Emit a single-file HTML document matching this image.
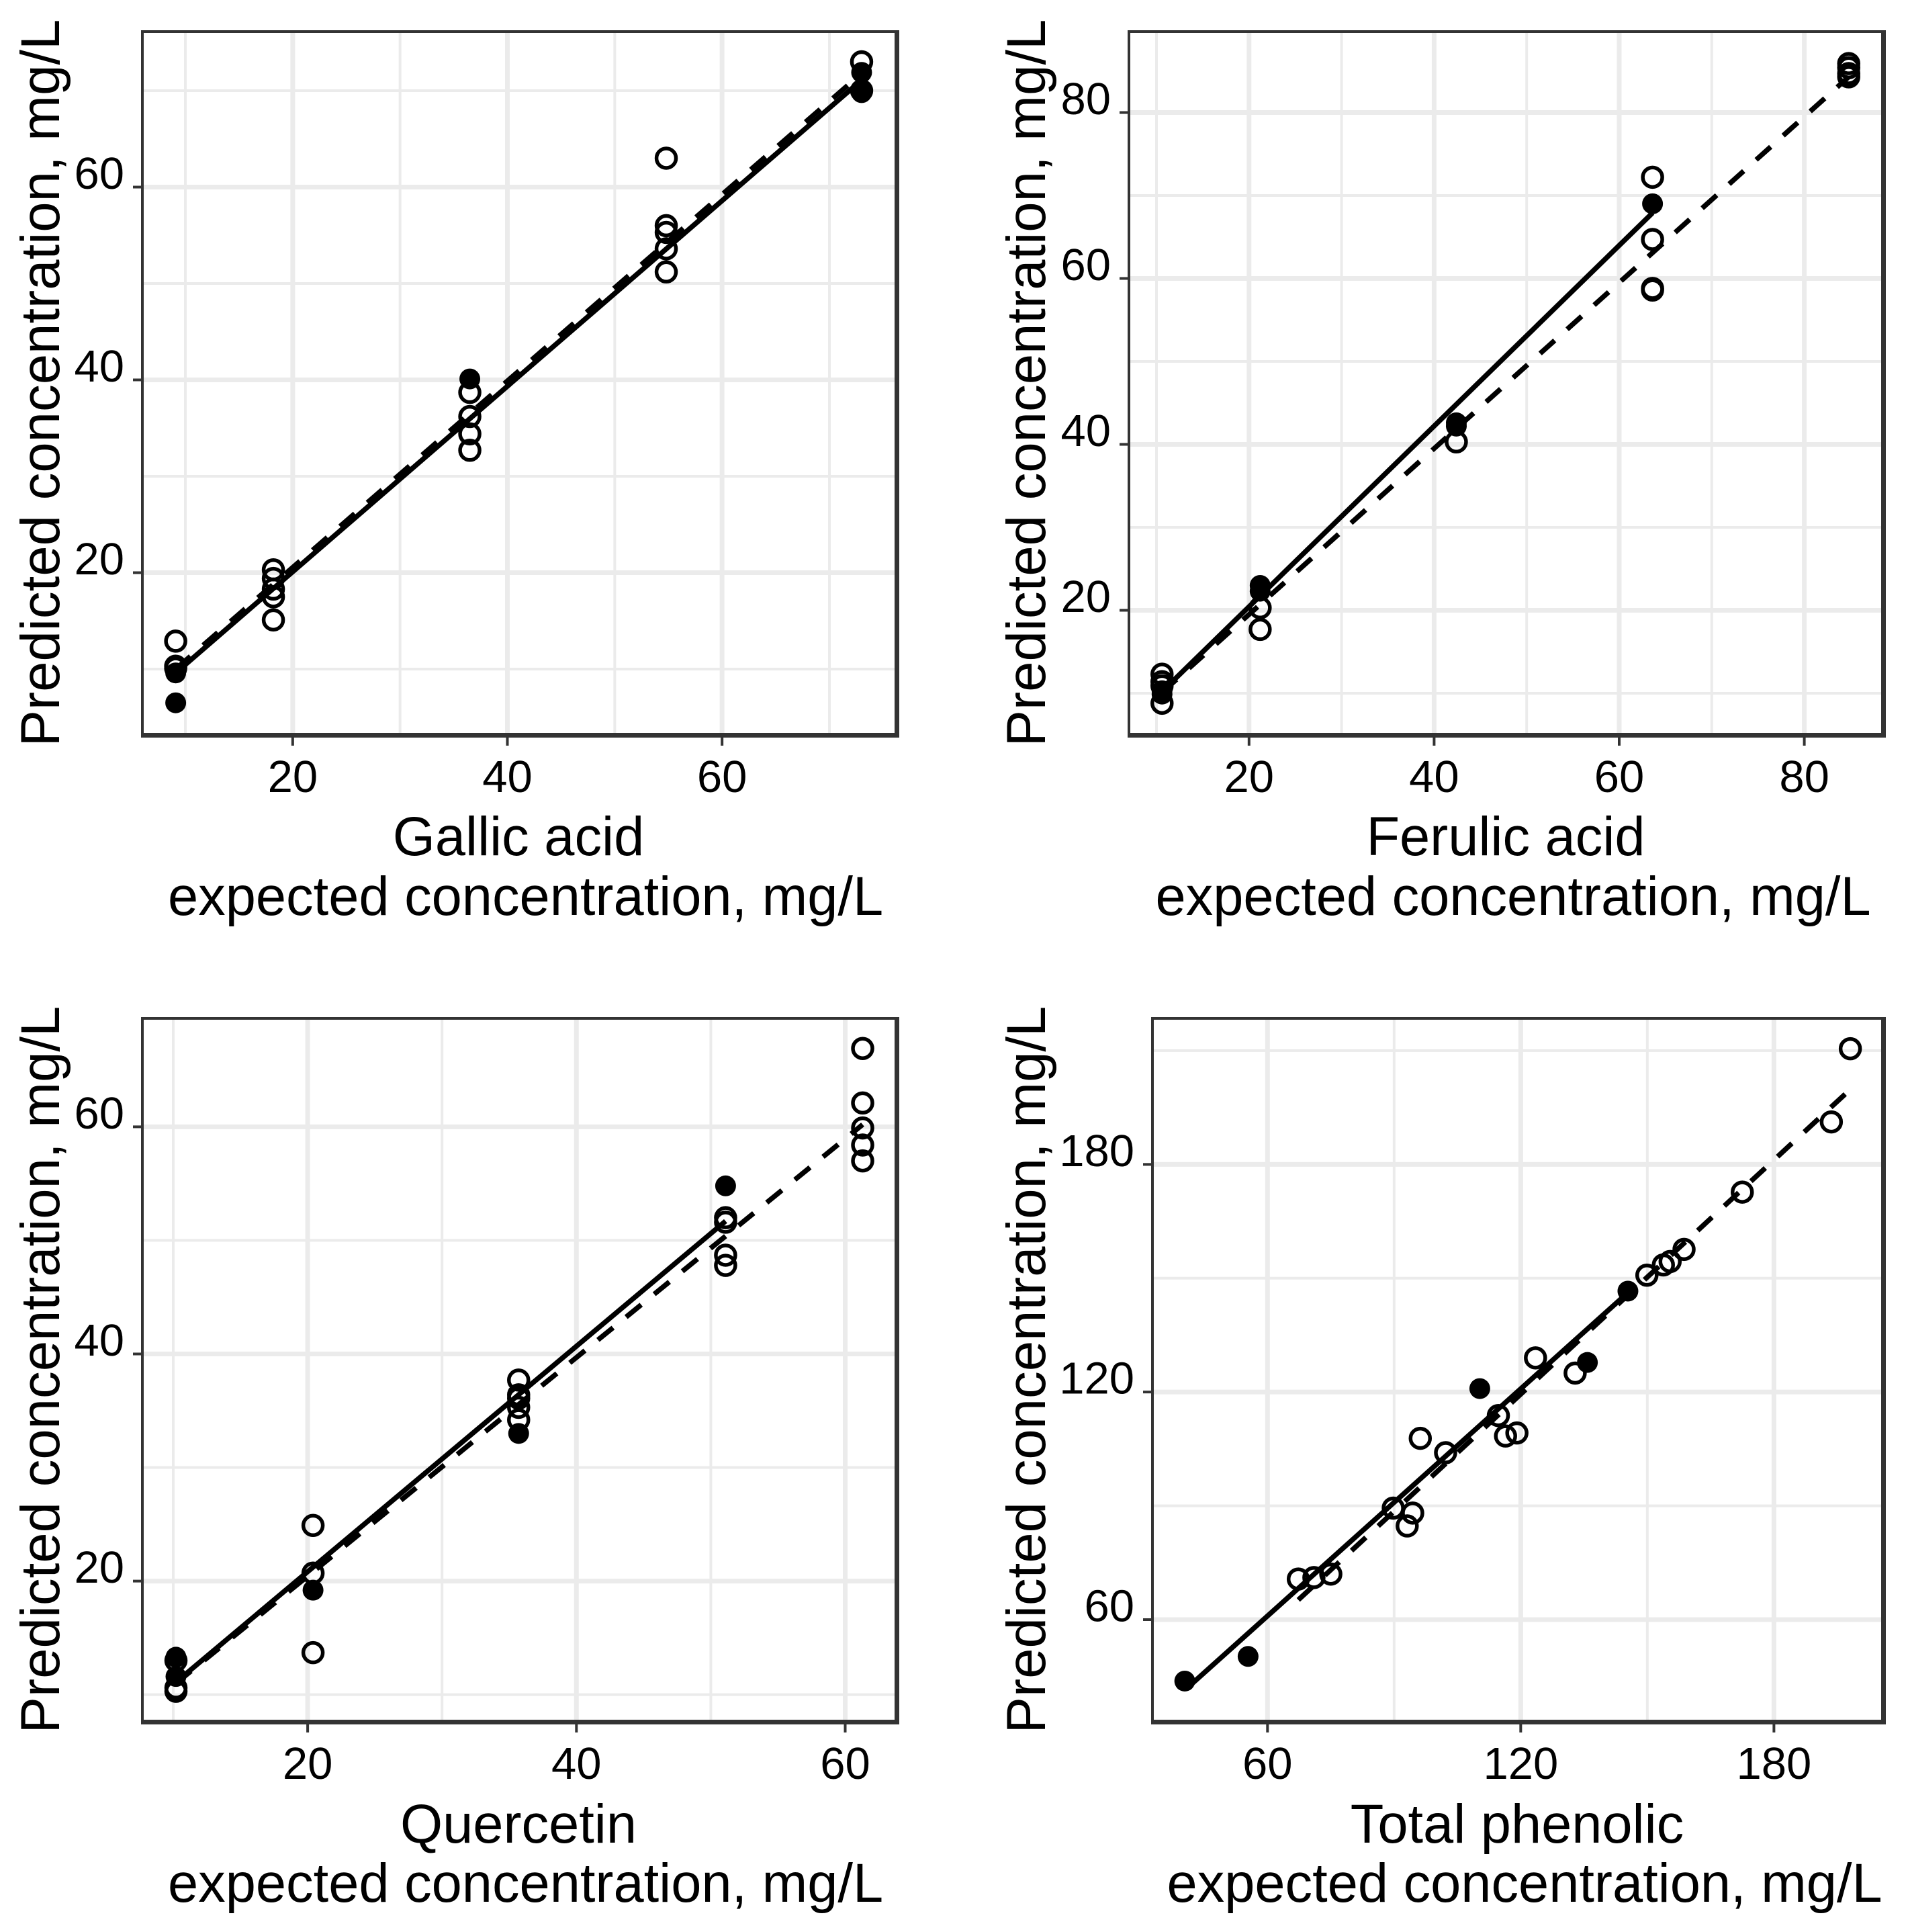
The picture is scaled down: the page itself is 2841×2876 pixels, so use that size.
<!DOCTYPE html>
<html lang="en">
<head>
<meta charset="utf-8">
<title>Predicted versus expected concentration</title>
<style>
html,body{margin:0;padding:0;background:#fff;}
svg{display:block;}
text{font-family:"Liberation Sans",Arial,sans-serif;fill:#000;}
.axis-title{font-size:81.2px;}
.y-title{font-size:81.5px;}
.tick-label{font-size:67px;}
</style>
</head>
<body>
<svg id="chart" xmlns="http://www.w3.org/2000/svg" width="2841" height="2876" viewBox="0 0 2841 2876">
  <rect x="0" y="0" width="2841" height="2876" fill="#ffffff"/>
  <g id="panel-gallic"></g>
  <g id="panel-ferulic"></g>
  <g id="panel-quercetin"></g>
  <g id="panel-total"></g>

  <text class="y-title" text-anchor="middle" transform="translate(88 570) rotate(-90)">Predicted concentration, mg/L</text>
  <text class="axis-title" x="772" y="1273" text-anchor="middle">Gallic acid</text>
  <text class="axis-title" x="250" y="1362">expected concentration, mg/L</text>

  <text class="y-title" text-anchor="middle" transform="translate(1556 570) rotate(-90)">Predicted concentration, mg/L</text>
  <text class="axis-title" x="2242" y="1273" text-anchor="middle">Ferulic acid</text>
  <text class="axis-title" x="1720.5" y="1362">expected concentration, mg/L</text>

  <text class="y-title" text-anchor="middle" transform="translate(88 2039) rotate(-90)">Predicted concentration, mg/L</text>
  <text class="axis-title" x="772" y="2743" text-anchor="middle">Quercetin</text>
  <text class="axis-title" x="250" y="2831">expected concentration, mg/L</text>

  <text class="y-title" text-anchor="middle" transform="translate(1556 2039) rotate(-90)">Predicted concentration, mg/L</text>
  <text class="axis-title" x="2259" y="2743" text-anchor="middle">Total phenolic</text>
  <text class="axis-title" x="1737.5" y="2831">expected concentration, mg/L</text>
</svg>
<script>
/* ---------- Gallic acid ---------- */
const gallicXTicks = [20, 40, 60];
const gallicYTicks = [20, 40, 60];
const gallicXMinor = [10, 30, 50, 70];
const gallicYMinor = [10, 30, 50, 70];
const gallicOpenX = [9.1, 9.1, 9.1, 18.2, 18.2, 18.2, 18.2, 18.2, 36.5, 36.5, 36.5, 36.5, 54.8, 54.8, 54.8, 54.8, 54.8, 73, 73];
const gallicOpenY = [12.9, 10.3, 10.1, 20.3, 19.4, 18.3, 17.5, 15.1, 38.7, 36.2, 34.4, 32.7, 63, 56, 55.3, 53.6, 51.2, 73, 70];
const gallicFilledX = [9.1, 9.1, 36.5, 73, 73];
const gallicFilledY = [9.6, 6.5, 40.1, 71.9, 69.8];
const gallicSolidX = [9.1, 73];
const gallicSolidY = [9.6, 71.1];
const gallicDashX = [9.1, 73];
const gallicDashY = [10, 71.8];

/* ---------- Ferulic acid ---------- */
const ferulicXTicks = [20, 40, 60, 80];
const ferulicYTicks = [20, 40, 60, 80];
const ferulicXMinor = [10, 30, 50, 70];
const ferulicYMinor = [10, 30, 50, 70];
const ferulicOpenX = [10.6, 10.6, 10.6, 10.6, 21.2, 21.2, 42.4, 63.6, 63.6, 63.6, 63.6, 84.8, 84.8, 84.8, 84.8];
const ferulicOpenY = [12.3, 11.4, 10.9, 8.8, 20.3, 17.7, 40.3, 72.2, 64.7, 58.8, 58.6, 85.9, 85.4, 84.7, 84.3];
const ferulicFilledX = [10.6, 10.6, 21.2, 21.2, 42.4, 42.4, 63.6];
const ferulicFilledY = [9.9, 10.3, 23, 22.3, 42.6, 42.2, 69];
const ferulicSolidX = [10.6, 63.6];
const ferulicSolidY = [10.2, 67.9];
const ferulicDashX = [10.6, 84.8];
const ferulicDashY = [10.1, 84.3];

/* ---------- Quercetin ---------- */
const quercetinXTicks = [20, 40, 60];
const quercetinYTicks = [20, 40, 60];
const quercetinXMinor = [10, 30, 50];
const quercetinYMinor = [10, 30, 50];
const quercetinOpenX = [10.2, 10.2, 10.2, 20.4, 20.4, 20.4, 35.7, 35.7, 35.7, 35.7, 35.7, 51.1, 51.1, 51.1, 51.1, 61.3, 61.3, 61.3, 61.3, 61.3];
const quercetinOpenY = [13, 10.6, 10.3, 24.9, 20.7, 13.7, 37.7, 36.4, 36.1, 35.3, 34.2, 52, 51.6, 48.7, 47.8, 66.9, 62.1, 59.9, 58.4, 57];
const quercetinFilledX = [10.2, 10.2, 20.4, 35.7, 51.1];
const quercetinFilledY = [13.3, 11.6, 19.2, 33, 54.8];
const quercetinSolidX = [10.2, 51.1];
const quercetinSolidY = [11.1, 51.7];
const quercetinDashX = [10.2, 61.3];
const quercetinDashY = [11, 60.2];

/* ---------- Total phenolic ---------- */
const totalXTicks = [60, 120, 180];
const totalYTicks = [60, 120, 180];
const totalXMinor = [90, 150];
const totalYMinor = [90, 150, 210];
const totalOpenX = [67.3, 71, 75, 89.8, 94.4, 93.1, 96.2, 102.2, 114.7, 116.4, 119.1, 123.5, 132.9, 149.9, 153.8, 155.4, 158.7, 172.5, 193.6, 198.1];
const totalOpenY = [70.7, 71.1, 72, 89.4, 88.1, 84.7, 107.8, 104, 113.8, 108.4, 109.2, 129, 125, 150.8, 153.5, 154.4, 157.6, 172.7, 191.2, 210.5];
const totalFilledX = [40.4, 55.4, 110.3, 135.8, 145.4];
const totalFilledY = [43.8, 50.3, 120.9, 127.8, 146.6];
const totalSolidX = [41, 145.3];
const totalSolidY = [42, 146.1];
const totalDashX = [67.3, 198.7];
const totalDashY = [65.2, 200.4];

const SVG_NS = 'http://www.w3.org/2000/svg';

function make(parent, tag, attrs) {
  const el = document.createElementNS(SVG_NS, tag);
  for (const k in attrs) el.setAttribute(k, attrs[k]);
  parent.appendChild(el);
  return el;
}

function linearScale(anchorValue, anchorPixel, pixelsPerUnit) {
  return function (v) { return anchorPixel + (v - anchorValue) * pixelsPerUnit; };
}

function drawPanel(id, box, sx, sy, d) {
  const g = document.getElementById(id);
  const clipId = id + '-clip';
  const defs = make(g, 'defs', {});
  const clip = make(defs, 'clipPath', { id: clipId });
  make(clip, 'rect', { x: box.left, y: box.top, width: box.right - box.left, height: box.bottom - box.top });

  d.xMinor.forEach(function (v) {
    const el = make(g, 'rect', { x: sx(v) - 2, y: box.top, width: 4, height: box.bottom - box.top, fill: '#ebebeb' });
    
    
  });
  d.yMinor.forEach(function (v) {
    const el = make(g, 'rect', { x: box.left, y: sy(v) - 2, width: box.right - box.left, height: 4, fill: '#ebebeb' });
    
    
  });
  d.xTicks.forEach(function (v) {
    const el = make(g, 'rect', { x: sx(v) - 3.5, y: box.top, width: 7, height: box.bottom - box.top, fill: '#ebebeb' });
    
    
  });
  d.yTicks.forEach(function (v) {
    const el = make(g, 'rect', { x: box.left, y: sy(v) - 3.5, width: box.right - box.left, height: 7, fill: '#ebebeb' });
    
    
  });

  d.openX.forEach(function (v, i) {
    const el = make(g, 'circle', { cx: sx(v), cy: sy(d.openY[i]), r: 14.5, fill: 'none', stroke: '#000', 'stroke-width': 5.5 });
    
    
  });
  d.filledX.forEach(function (v, i) {
    const el = make(g, 'circle', { cx: sx(v), cy: sy(d.filledY[i]), r: 15.5, fill: '#000' });
    
    
  });

  const dash = make(g, 'line', { x1: sx(d.dashX[0]), y1: sy(d.dashY[0]), x2: sx(d.dashX[1]), y2: sy(d.dashY[1]), stroke: '#000', 'stroke-width': 7.5, 'stroke-dasharray': '29 25', 'clip-path': 'url(#' + clipId + ')' });
  
  
  const solid = make(g, 'line', { x1: sx(d.solidX[0]), y1: sy(d.solidY[0]), x2: sx(d.solidX[1]), y2: sy(d.solidY[1]), stroke: '#000', 'stroke-width': 7.5, 'clip-path': 'url(#' + clipId + ')' });
  
  

  const edges = [
    [box.left - 4, box.top - 4, box.right - box.left + 11, 4],
    [box.left - 4, box.top - 4, 4, box.bottom - box.top + 11],
    [box.right, box.top - 4, 7, box.bottom - box.top + 11],
    [box.left - 4, box.bottom, box.right - box.left + 11, 7]
  ];
  edges.forEach(function (e) {
    const el = make(g, 'rect', { x: e[0], y: e[1], width: e[2], height: e[3], fill: '#333333' });
    
    
  });

  d.xTicks.forEach(function (v) {
    const tick = make(g, 'rect', { x: sx(v) - 2, y: box.bottom + 7, width: 4, height: 12, fill: '#333333' });
    
    
    const label = make(g, 'text', { class: 'tick-label', x: sx(v), y: box.bottom + 88, 'text-anchor': 'middle' });
    label.textContent = String(v);
    
    
  });
  d.yTicks.forEach(function (v) {
    const tick = make(g, 'rect', { x: box.left - 16, y: sy(v) - 2, width: 12, height: 4, fill: '#333333' });
    
    
    const label = make(g, 'text', { class: 'tick-label', x: box.left - 29, y: sy(v) + 2.5, 'text-anchor': 'end' });
    label.textContent = String(v);
    
    
  });
}

drawPanel('panel-gallic',
  { left: 214, right: 1332, top: 49, bottom: 1091 },
  linearScale(10, 276, 15.983), linearScale(10, 996, -14.35),
  { xTicks: gallicXTicks, yTicks: gallicYTicks, xMinor: gallicXMinor, yMinor: gallicYMinor,
    openX: gallicOpenX, openY: gallicOpenY, filledX: gallicFilledX, filledY: gallicFilledY,
    solidX: gallicSolidX, solidY: gallicSolidY, dashX: gallicDashX, dashY: gallicDashY });

drawPanel('panel-ferulic',
  { left: 1683, right: 2801, top: 49, bottom: 1091 },
  linearScale(10, 1722, 13.78), linearScale(10, 1032, -12.35),
  { xTicks: ferulicXTicks, yTicks: ferulicYTicks, xMinor: ferulicXMinor, yMinor: ferulicYMinor,
    openX: ferulicOpenX, openY: ferulicOpenY, filledX: ferulicFilledX, filledY: ferulicFilledY,
    solidX: ferulicSolidX, solidY: ferulicSolidY, dashX: ferulicDashX, dashY: ferulicDashY });

drawPanel('panel-quercetin',
  { left: 214, right: 1332, top: 1518, bottom: 2560 },
  linearScale(10, 258, 20.01), linearScale(10, 2522.7, -16.906),
  { xTicks: quercetinXTicks, yTicks: quercetinYTicks, xMinor: quercetinXMinor, yMinor: quercetinYMinor,
    openX: quercetinOpenX, openY: quercetinOpenY, filledX: quercetinFilledX, filledY: quercetinFilledY,
    solidX: quercetinSolidX, solidY: quercetinSolidY, dashX: quercetinDashX, dashY: quercetinDashY });

drawPanel('panel-total',
  { left: 1718, right: 2801, top: 1518, bottom: 2560 },
  linearScale(60, 1887.3, 6.284), linearScale(60, 2411, -5.647),
  { xTicks: totalXTicks, yTicks: totalYTicks, xMinor: totalXMinor, yMinor: totalYMinor,
    openX: totalOpenX, openY: totalOpenY, filledX: totalFilledX, filledY: totalFilledY,
    solidX: totalSolidX, solidY: totalSolidY, dashX: totalDashX, dashY: totalDashY });
</script>
</body>
</html>
